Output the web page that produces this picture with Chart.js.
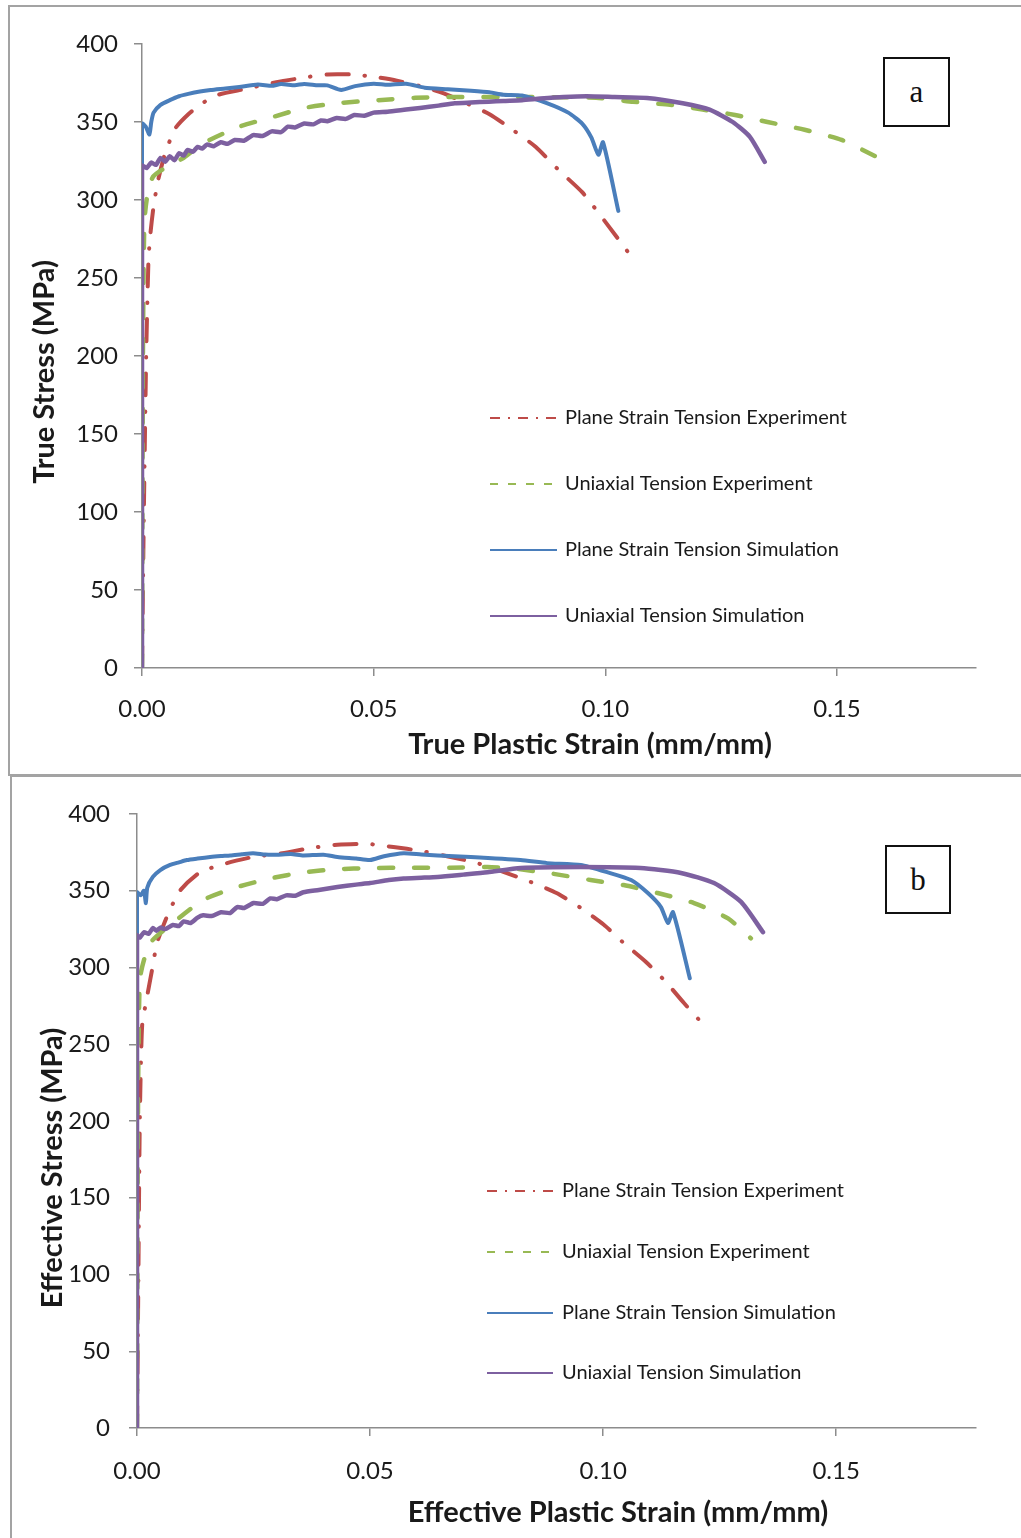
<!DOCTYPE html>
<html>
<head>
<meta charset="utf-8">
<script src="https://cdn.jsdelivr.net/npm/chart.js@4/dist/chart.umd.min.js"></script>
<style>
  html, body { margin:0; padding:0; background:#fff; overflow:hidden; width:1021px; height:1538px; }
  .panel { position:absolute; border:2px solid #a3a3a3; box-sizing:border-box; }
  canvas { position:absolute; left:0; }
  .tag { position:absolute; border:2px solid #111; background:#fff; box-sizing:border-box;
         font-family:"Liberation Serif","DejaVu Serif",serif; font-size:31px; color:#111;
         display:flex; align-items:center; justify-content:center; }
</style>
</head>
<body>
<div class="panel" style="left:8px; top:5px; width:1040px; height:771px;"></div>
<div class="panel" style="left:10px; top:775px; width:1040px; height:800px;"></div>
<canvas id="c1" width="1021" height="775" style="top:0;"></canvas>
<canvas id="c2" width="1021" height="763" style="top:775px;"></canvas>
<div class="tag" style="left:883px; top:57px; width:67px; height:70px;">a</div>
<div class="tag" style="left:885px; top:845px; width:66px; height:69px;">b</div>
<script>
// ---------- shared labels / ticks ----------
const seriesNames = ['Plane Strain Tension Experiment', 'Uniaxial Tension Experiment',
                     'Plane Strain Tension Simulation', 'Uniaxial Tension Simulation'];
const strainTicks = [0, 0.05, 0.10, 0.15];
const stressTicks = [0, 50, 100, 150, 200, 250, 300, 350, 400];

// ---------- panel a: true stress vs true plastic strain ----------
const aPSExpX = [0, 0.0004, 0.0009, 0.0014, 0.0018, 0.0025, 0.0035, 0.0050, 0.0072, 0.010, 0.013, 0.0165, 0.022, 0.029, 0.035, 0.040, 0.045, 0.050, 0.055, 0.060, 0.065, 0.070, 0.075, 0.080, 0.085, 0.090, 0.095, 0.100, 0.1058];
const aPSExpY = [0, 100, 200, 262, 278, 296, 313, 330, 346, 355, 362, 367.5, 371, 375.5, 378.5, 380.5, 380.5, 379, 376.5, 373, 368.5, 362, 355, 345, 334, 319, 305, 286, 263];

const aUTExpX = [0, 0.0002, 0.0005, 0.0011, 0.0024, 0.006, 0.009, 0.013, 0.021, 0.028, 0.035, 0.042, 0.051, 0.059, 0.067, 0.080, 0.098, 0.106, 0.114, 0.121, 0.128, 0.135, 0.143, 0.151, 0.159];
const aUTExpY = [0, 200, 285, 302, 315, 322.5, 327, 336, 347, 353, 359, 362, 364, 365.5, 366, 366, 365.5, 363, 361, 358, 354.5, 350, 345, 338.5, 327];

const aPSSimX = [0, 0, 0.0008, 0.0016, 0.0020, 0.0025, 0.004, 0.006, 0.008, 0.010, 0.0125, 0.0148, 0.018, 0.021, 0.025, 0.028, 0.030, 0.033, 0.035, 0.038, 0.040, 0.043, 0.046, 0.050, 0.053, 0.057, 0.061, 0.066, 0.071, 0.075, 0.078, 0.082, 0.0875, 0.092, 0.095, 0.097, 0.0985, 0.0995, 0.1028];
const aPSSimY = [0, 349, 347, 342, 350, 356, 361, 364, 366.5, 368, 369.5, 370.5, 371.5, 372.5, 374, 373.2, 374.3, 373.6, 374.4, 373.5, 373.5, 370.5, 373, 374.5, 373.8, 374.5, 372, 371, 370, 369, 367.5, 367, 362, 356, 349, 340, 329, 337, 293];

const aUTSimX = [0, 0, 0.001, 0.002, 0.003, 0.004, 0.005, 0.006, 0.007, 0.008, 0.009, 0.0098, 0.011, 0.012, 0.013, 0.014, 0.0155, 0.017, 0.0185, 0.020, 0.022, 0.024, 0.026, 0.028, 0.030, 0.0315, 0.033, 0.035, 0.037, 0.0386, 0.040, 0.042, 0.044, 0.0458, 0.048, 0.050, 0.053, 0.057, 0.060, 0.064, 0.0675, 0.071, 0.0748, 0.078, 0.082, 0.086, 0.091, 0.096, 0.102, 0.109, 0.1167, 0.1225, 0.1275, 0.1312, 0.1344];
const aUTSimY = [0, 322, 320.5, 324, 322.5, 327, 324.5, 328, 325.5, 330, 328.5, 332, 331, 334, 333, 335.5, 334.5, 337, 336, 338.5, 338, 341.6, 341, 344, 343.5, 347, 346.5, 349, 348.5, 351, 350.5, 352.5, 352, 354.5, 354, 356, 356.6, 358, 359, 360.5, 362, 362.5, 363, 363.5, 364, 365, 366, 366.5, 366, 365.4, 362, 357.9, 350, 340.5, 324.5];

// ---------- panel b: effective stress vs effective plastic strain ----------
const bPSExpX = [0, 0.0003, 0.0006, 0.0011, 0.0021, 0.0032, 0.0043, 0.0064, 0.0092, 0.0135, 0.0193, 0.0249, 0.0312, 0.0372, 0.043, 0.0494, 0.055, 0.0608, 0.0665, 0.0722, 0.078, 0.0845, 0.090, 0.0952, 0.1001, 0.1044, 0.1092, 0.1135, 0.1173, 0.1216];
const bPSExpY = [0, 100, 200, 262, 280, 298, 316, 333, 350, 362, 368, 372, 374.5, 377.8, 380, 380.5, 378.5, 376, 372.5, 368.7, 363, 355.7, 348.5, 338.8, 328, 316, 303.6, 290.5, 277, 262.5];

const bUTExpX = [0, 0.0002, 0.0006, 0.0017, 0.0034, 0.0077, 0.0142, 0.0215, 0.0286, 0.0357, 0.043, 0.050, 0.0587, 0.0673, 0.0752, 0.0808, 0.0894, 0.0973, 0.1044, 0.1117, 0.1195, 0.1268, 0.1317];
const bUTExpY = [0, 200, 292, 307, 318, 329, 344, 352.4, 358, 362, 364, 364.8, 365, 365, 365.5, 364.5, 361, 357, 353.7, 348.5, 342, 332, 319];

const bPSSimX = [0, 0, 0.0008, 0.0015, 0.0019, 0.0022, 0.0034, 0.005, 0.0071, 0.009, 0.0107, 0.013, 0.0157, 0.018, 0.020, 0.0225, 0.0249, 0.0275, 0.030, 0.033, 0.0357, 0.040, 0.043, 0.047, 0.050, 0.053, 0.0572, 0.061, 0.0645, 0.0716, 0.0823, 0.088, 0.0952, 0.101, 0.106, 0.1096, 0.1124, 0.1139, 0.115, 0.1186];
const bPSSimY = [0, 349, 347, 350, 342, 352, 359, 363.5, 366.8, 368.5, 370, 371, 372, 372.6, 373, 373.8, 374.5, 373.6, 373.5, 373.9, 373, 373.5, 372, 371, 370, 372.5, 374.5, 373.6, 373, 372, 370, 368, 366.8, 362, 357, 348.5, 339.4, 329, 336, 293];

const bUTSimX = [0, 0, 0.0006, 0.0015, 0.0025, 0.0034, 0.0042, 0.005, 0.006, 0.0077, 0.009, 0.010, 0.0115, 0.013, 0.0142, 0.016, 0.018, 0.020, 0.0215, 0.023, 0.025, 0.027, 0.0286, 0.030, 0.032, 0.034, 0.0357, 0.039, 0.043, 0.047, 0.050, 0.054, 0.0572, 0.061, 0.0645, 0.070, 0.0752, 0.0823, 0.0952, 0.108, 0.1167, 0.1238, 0.1296, 0.1343];
const bUTSimY = [0, 321, 319.5, 323, 322, 325.7, 324, 326, 325, 327.7, 327, 330, 329, 332.5, 334, 333.5, 336, 335.5, 339.4, 338.8, 342, 341.5, 345, 344.5, 347, 346.8, 349, 350.5, 352.4, 354, 355, 357, 358, 358.5, 359, 360.5, 362, 364.8, 365.5, 364.8, 361.6, 355, 342.7, 323];

// ---------- styles ----------
const colors = ['#BE4B48', '#98B954', '#4A7EBB', '#7D60A0'];
const plotDash = [[22, 16, 0.5, 16], [14, 21], [], []];
const plotCap = ['round', 'round', 'round', 'round'];
const plotWidth = [4, 4.5, 4, 4.5];
const legendDash = [[10, 8, 2, 8], [8, 10], [], []];
const FONT = 'Lato, "Open Sans", sans-serif';
const INK = '#1a1a1a';

function pts(xs, ys) { return xs.map((x, i) => ({ x: x, y: ys[i] })); }

const extras = {
  id: 'extras',
  afterDraw(chart, args, o) {
    const ctx = chart.ctx;
    ctx.save();
    ctx.fillStyle = INK;
    ctx.font = 'bold 29px ' + FONT;
    ctx.textAlign = 'center';
    ctx.textBaseline = 'middle';
    ctx.fillText(o.xTitle, o.xTitlePos[0], o.xTitlePos[1]);
    ctx.save();
    ctx.translate(o.yTitlePos[0], o.yTitlePos[1]);
    ctx.rotate(-Math.PI / 2);
    ctx.fillText(o.yTitle, 0, 0);
    ctx.restore();
    // legend
    ctx.font = '20px ' + FONT;
    ctx.textAlign = 'left';
    seriesNames.forEach((name, i) => {
      const y = o.legendRows[i];
      ctx.beginPath();
      ctx.setLineDash(legendDash[i]);
      ctx.lineCap = 'butt';
      ctx.strokeStyle = colors[i];
      ctx.lineWidth = 2;
      ctx.moveTo(o.legendX[0], y);
      ctx.lineTo(o.legendX[1], y);
      ctx.stroke();
      ctx.setLineDash([]);
      ctx.fillStyle = INK;
      ctx.fillText(name, o.legendX[2], y);
    });
    ctx.restore();
  }
};

function makeChart(id, series, geo) {
  const H = geo.H;
  const datasets = series.map((s, i) => ({
    label: seriesNames[i],
    data: pts(s[0], s[1]),
    borderColor: colors[i],
    backgroundColor: colors[i],
    borderWidth: plotWidth[i],
    borderDash: plotDash[i],
    borderCapStyle: plotCap[i],
    borderJoinStyle: 'round',
    pointRadius: 0,
    tension: 0.2,
    fill: false,
    order: 4 - i
  }));
  return new Chart(document.getElementById(id), {
    type: 'line',
    data: { datasets: datasets },
    plugins: [extras],
    options: {
      responsive: false,
      animation: false,
      events: [],
      layout: { padding: { left: 0, right: geo.right, top: geo.top, bottom: 0 } },
      plugins: {
        legend: { display: false },
        tooltip: { enabled: false },
        extras: geo.extras
      },
      scales: {
        x: {
          type: 'linear', min: 0, max: 0.18,
          afterBuildTicks: s => { s.ticks = strainTicks.map(v => ({ value: v })); },
          afterFit: s => { s.height = H - geo.bottom; },
          ticks: { callback: v => Number(v).toFixed(2), font: { family: FONT, size: 24 }, color: INK,
                   padding: geo.xPad, maxRotation: 0, autoSkip: false },
          grid: { drawOnChartArea: false, drawTicks: true, tickLength: 8, color: '#8c8c8c', lineWidth: 1.5 },
          border: { color: '#8c8c8c', width: 1.5 }
        },
        y: {
          type: 'linear', min: 0, max: 400,
          afterBuildTicks: s => { s.ticks = stressTicks.map(v => ({ value: v })); },
          afterFit: s => { s.width = geo.left; },
          ticks: { font: { family: FONT, size: 24 }, color: INK, padding: geo.yPad, autoSkip: false },
          grid: { drawOnChartArea: false, drawTicks: true, tickLength: 8, color: '#8c8c8c', lineWidth: 1.5 },
          border: { color: '#8c8c8c', width: 1.5 }
        }
      }
    }
  });
}

makeChart('c1',
  [[aPSExpX, aPSExpY], [aUTExpX, aUTExpY], [aPSSimX, aPSSimY], [aUTSimX, aUTSimY]],
  { H: 775, left: 142, right: 45, top: 44, bottom: 668, xPad: 19, yPad: 16,
    extras: { xTitle: 'True Plastic Strain (mm/mm)', xTitlePos: [590, 745],
              yTitle: 'True Stress (MPa)', yTitlePos: [45, 372],
              legendRows: [418, 484, 550, 616], legendX: [490, 557, 565] } });

makeChart('c2',
  [[bPSExpX, bPSExpY], [bUTExpX, bUTExpY], [bPSSimX, bPSSimY], [bUTSimX, bUTSimY]],
  { H: 763, left: 137, right: 45, top: 39, bottom: 653, xPad: 21, yPad: 19,
    extras: { xTitle: 'Effective Plastic Strain (mm/mm)', xTitlePos: [618, 738],
              yTitle: 'Effective Stress (MPa)', yTitlePos: [53, 393],
              legendRows: [416, 477, 538, 598], legendX: [487, 553, 562] } });
</script>
</body>
</html>
